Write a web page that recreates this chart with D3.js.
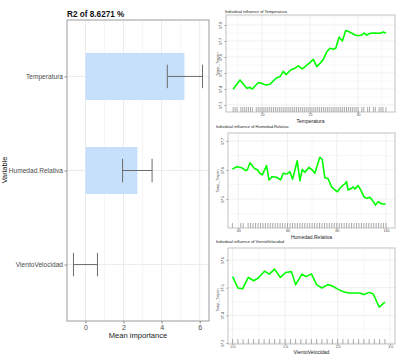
<!DOCTYPE html>
<html><head><meta charset="utf-8">
<script src="https://cdn.jsdelivr.net/npm/d3@7"></script>
<style>body{margin:0;background:#fff}svg{display:block;font-family:"Liberation Sans",Arial,sans-serif}</style>
</head><body>
<svg id="c" width="402" height="364"></svg>
<script>
// ---------- data ----------
const variables = ["Temperatura", "Humedad.Relativa", "VientoVelocidad"];
const meanImportance = [5.2, 2.73, 0];
const errLow = [4.3, 1.95, -0.63];
const errHigh = [6.15, 3.5, 0.63];
const impTicks = [0, 2, 4, 6];
const r2Title = "R2 of 8.6271 %";

const tempX = [17.0,17.71,18.41,18.75,18.99,19.62,19.97,20.38,20.83,21.53,21.88,22.22,22.5,23.02,23.44,23.78,24.2,24.48,24.9,25.35,25.7,26.04,26.39,26.74,27.08,27.43,27.68,28.02,28.37,28.72,29.06,29.34,29.69,30.03,30.38,30.63,30.9,31.25,31.77,32.3,32.64,32.9];
const tempY = [37.398,37.456,37.404,37.41,37.4,37.44,37.435,37.425,37.43,37.47,37.477,37.51,37.49,37.52,37.53,37.544,37.525,37.54,37.56,37.585,37.54,37.56,37.585,37.633,37.654,37.648,37.654,37.723,37.70,37.765,37.758,37.75,37.737,37.733,37.737,37.75,37.737,37.748,37.75,37.748,37.756,37.748];
const tempRug = [17.0,17.2,17.4,17.8,18.0,18.2,18.4,18.6,18.8,19.0,19.4,19.6,19.8,20.0,20.2,20.4,20.6,20.8,21.0,21.2,21.4,21.6,21.8,22.0,22.2,22.4,22.6,22.8,23.0,23.2,23.4,23.6,23.8,24.0,24.2,24.4,24.6,24.8,25.0,25.2,25.4,25.6,25.8,26.0,26.2,26.4,26.6,26.8,27.0,27.2,27.4,27.6,27.8,28.0,28.2,28.4,28.6,28.8,29.0,29.2,29.4,29.6,29.8,30.0,30.4,30.6,31.0,31.2,31.6,31.8,32.2,32.4,32.6,32.9];
const tempXTicks = [20, 25, 30];
const tempYTicks = [37.3, 37.4, 37.5, 37.6, 37.7, 37.8];

const humX = [37.57,39.35,41.38,43.0,43.65,44.75,46.5,47.87,48.52,49.74,51.5,52.45,53.8,55.58,57.2,58.26,59.62,60.97,62.05,63.94,65.03,65.97,67.06,68.68,70.03,71.1,73.14,74.08,75.17,76.5,77.9,79.23,80.3,81.26,82.6,83.29,83.97,84.6,86.0,86.65,87.34,88.68,89.77,90.99,92.08,93.43,94.36,95.74,96.8,97.77,98.8,99.85];
const humY = [37.603,37.611,37.608,37.598,37.60,37.625,37.606,37.60,37.591,37.583,37.615,37.566,37.577,37.575,37.566,37.589,37.586,37.594,37.568,37.632,37.563,37.602,37.592,37.609,37.60,37.589,37.644,37.637,37.573,37.57,37.542,37.531,37.525,37.537,37.548,37.552,37.56,37.531,37.537,37.542,37.534,37.546,37.531,37.508,37.502,37.506,37.497,37.479,37.491,37.485,37.483,37.483];
const humRug = [37.6,41,42,44,45,46,47,48,49,50,51,52,53,54,55,56,57,58,59,60,61,62,63,64,65,66,67,68,69,70,71,72,73,74,75,76,77,78,79,80,81,82,83,84,85,86,87,88,89,90,91,92,93,94,95,96,97,98,99,100];
const humXTicks = [40, 60, 80, 100];
const humYTicks = [37.5, 37.6, 37.7];

const windX = [0,0.10,0.19,0.30,0.40,0.49,0.61,0.70,0.80,0.91,1.01,1.12,1.20,1.32,1.40,1.50,1.60,1.70,1.81,1.89,2.02,2.11,2.21,2.30,2.41,2.50,2.60,2.68,2.79,2.90];
const windY = [37.54,37.499,37.496,37.537,37.525,37.535,37.56,37.549,37.567,37.537,37.555,37.558,37.511,37.549,37.54,37.55,37.511,37.499,37.511,37.507,37.493,37.485,37.481,37.481,37.481,37.475,37.483,37.477,37.43,37.448];
const windRug = [0,0.1,0.2,0.3,0.4,0.5,0.6,0.7,0.8,0.9,1.0,1.1,1.2,1.3,1.4,1.5,1.6,1.7,1.8,1.9,2.0,2.1,2.2,2.3,2.4,2.5,2.6,2.7,2.8,2.9];
const windXTicks = [0, 1, 2, 3];
const windYTicks = [37.3, 37.4, 37.5, 37.6];

const yAxisTitle = "Temp._Tmpen";

// ---------- drawing ----------
const svg = d3.select("#c");
const GRID = "#ebebeb", BORDER = "#9a9a9a", TXT = "#4d4d4d";
const FONT = "Liberation Sans, Arial, sans-serif";

// ===== Left importance panel =====
{
  const L = 67, R = 209, T = 20, B = 321;
  const x = d3.scaleLinear().domain([-0.97, 6.49]).range([L, R]);
  const y = d3.scalePoint().domain(variables).range([T, B]).padding(0.6);
  const g = svg.append("g");
  g.append("rect").attr("x", L).attr("y", T).attr("width", R - L).attr("height", B - T).attr("fill", "#fff");
  g.selectAll(".mn").data([1, 3, 5]).join("line")
    .attr("x1", d => x(d)).attr("x2", d => x(d)).attr("y1", T).attr("y2", B)
    .attr("stroke", "#f4f4f4").attr("stroke-width", 0.8);
  g.selectAll(".mj").data(impTicks).join("line")
    .attr("x1", d => x(d)).attr("x2", d => x(d)).attr("y1", T).attr("y2", B)
    .attr("stroke", GRID).attr("stroke-width", 1);
  g.selectAll(".hy").data(variables).join("line")
    .attr("x1", L).attr("x2", R).attr("y1", d => y(d)).attr("y2", d => y(d))
    .attr("stroke", GRID).attr("stroke-width", 1);
  const bh = y.step() * 0.5;
  g.selectAll(".bar").data(variables).join("rect")
    .attr("x", (d, i) => x(Math.min(0, meanImportance[i])))
    .attr("width", (d, i) => Math.abs(x(meanImportance[i]) - x(0)))
    .attr("y", d => y(d) - bh / 2).attr("height", bh)
    .attr("fill", "#c6e0fb");
  const eh = y.step() * 0.25;
  variables.forEach((v, i) => {
    const cy = y(v);
    g.append("line").attr("x1", x(errLow[i])).attr("x2", x(errHigh[i])).attr("y1", cy).attr("y2", cy).attr("stroke", "#6b6b6b").attr("stroke-width", 1);
    [errLow[i], errHigh[i]].forEach(e => g.append("line").attr("x1", x(e)).attr("x2", x(e)).attr("y1", cy - eh / 2).attr("y2", cy + eh / 2).attr("stroke", "#6b6b6b").attr("stroke-width", 1));
  });
  g.append("rect").attr("x", L).attr("y", T).attr("width", R - L).attr("height", B - T).attr("fill", "none").attr("stroke", BORDER).attr("stroke-width", 1);
  const xa = g.append("g").attr("transform", `translate(0,${B})`).call(d3.axisBottom(x).tickValues(impTicks).tickSize(2.5).tickPadding(2));
  xa.select(".domain").remove();
  xa.selectAll("line").attr("stroke", "#888");
  xa.selectAll("text").attr("font-size", 7).attr("fill", TXT).attr("font-family", FONT);
  const ya = g.append("g").attr("transform", `translate(${L},0)`).call(d3.axisLeft(y).tickSize(2.5).tickPadding(1.5));
  ya.select(".domain").remove();
  ya.selectAll("line").attr("stroke", "#888");
  ya.selectAll("text").attr("font-size", 6.6).attr("fill", TXT).attr("font-family", FONT);
  g.append("text").attr("x", (L + R) / 2).attr("y", 338).attr("text-anchor", "middle").attr("font-size", 7.6).attr("fill", "#222").text("Mean importance");
  g.append("text").attr("transform", "translate(6.5,170) rotate(-90)").attr("text-anchor", "middle").attr("font-size", 7.4).attr("fill", "#222").text("Variable");
  g.append("text").attr("x", L).attr("y", 17).attr("font-size", 8.2).attr("font-weight", "bold").attr("fill", "#111").text(r2Title);
}

// ===== Right influence panels =====
function influence(cfg) {
  const { L, R, T, B, xd, yd, xs, ys, xt, yt, rug, title, titleX, titleY, xlab, xlabY, ytitleY, xMinor, yMinor } = cfg;
  const x = d3.scaleLinear().domain(xd).range([L, R]);
  const y = d3.scaleLinear().domain(yd).range([B, T]);
  const g = svg.append("g");
  g.append("rect").attr("x", L).attr("y", T).attr("width", R - L).attr("height", B - T).attr("fill", "#fff");
  g.selectAll(".xmn").data(xMinor).join("line").attr("x1", d => x(d)).attr("x2", d => x(d)).attr("y1", T).attr("y2", B).attr("stroke", "#f3f3f3").attr("stroke-width", 0.6);
  g.selectAll(".ymn").data(yMinor).join("line").attr("y1", d => y(d)).attr("y2", d => y(d)).attr("x1", L).attr("x2", R).attr("stroke", "#f3f3f3").attr("stroke-width", 0.6);
  g.selectAll(".xmj").data(xt).join("line").attr("x1", d => x(d)).attr("x2", d => x(d)).attr("y1", T).attr("y2", B).attr("stroke", GRID).attr("stroke-width", 0.8);
  g.selectAll(".ymj").data(yt).join("line").attr("y1", d => y(d)).attr("y2", d => y(d)).attr("x1", L).attr("x2", R).attr("stroke", GRID).attr("stroke-width", 0.8);
  g.selectAll(".rug").data(rug).join("line").attr("x1", d => x(d)).attr("x2", d => x(d)).attr("y1", B - 5).attr("y2", B)
    .attr("stroke", "#555").attr("stroke-width", 0.5);
  const line = d3.line().x(d => x(d[0])).y(d => y(d[1]));
  g.append("path").datum(xs.map((v, i) => [v, ys[i]])).attr("d", line).attr("fill", "none").attr("stroke", "#00ff00").attr("stroke-width", 1.6).attr("stroke-linejoin", "round");
  g.append("rect").attr("x", L).attr("y", T).attr("width", R - L).attr("height", B - T).attr("fill", "none").attr("stroke", "#b3b3b3").attr("stroke-width", 0.8);
  const xa = g.append("g").attr("transform", `translate(0,${B})`).call(d3.axisBottom(x).tickValues(xt).tickSize(1.2).tickPadding(0.6));
  xa.select(".domain").remove();
  xa.selectAll("line").attr("stroke", "#999");
  xa.selectAll("text").attr("font-size", 3.6).attr("fill", TXT).attr("font-family", FONT);
  const ya = g.append("g").attr("transform", `translate(${L},0)`).call(d3.axisLeft(y).tickValues(yt).tickSize(1.5).tickFormat(d3.format(".1f")));
  ya.select(".domain").remove();
  ya.selectAll("line").attr("stroke", "#999");
  ya.selectAll("text").attr("font-size", 3.8).attr("fill", TXT).attr("font-family", FONT)
    .attr("text-anchor", "middle").attr("x", 0).attr("dy", 0).attr("transform", `translate(${-4.5},0) rotate(-90)`);
  g.append("text").attr("x", titleX).attr("y", titleY).attr("font-size", 4).attr("fill", "#222").text(title);
  g.append("text").attr("x", (L + R) / 2).attr("y", xlabY).attr("text-anchor", "middle").attr("font-size", 5).attr("fill", "#222").text(xlab);
  g.append("text").attr("transform", `translate(218.5,${ytitleY}) rotate(-90)`).attr("text-anchor", "middle").attr("font-size", 3.6).attr("fill", "#333").text(yAxisTitle);
}

influence({ L: 226, R: 395, T: 15, B: 112, xd: [16.25, 33.85], yd: [37.256, 37.8625],
  xs: tempX, ys: tempY, xt: tempXTicks, yt: tempYTicks, rug: tempRug,
  title: "Individual influence of Temperatura", titleX: 225, titleY: 12.5,
  xlab: "Temperatura", xlabY: 122.5, ytitleY: 64,
  xMinor: [17.5, 22.5, 27.5, 32.5], yMinor: [37.35, 37.45, 37.55, 37.65, 37.75, 37.85] });

influence({ L: 228, R: 395, T: 133, B: 228, xd: [35.82, 103.66], yd: [37.4, 37.7276],
  xs: humX, ys: humY, xt: humXTicks, yt: humYTicks, rug: humRug,
  title: "Individual influence of Humedad.Relativa", titleX: 216, titleY: 127.5,
  xlab: "Humedad.Relativa", xlabY: 239, ytitleY: 181,
  xMinor: [50, 70, 90], yMinor: [37.45, 37.55, 37.65] });

influence({ L: 228, R: 395, T: 248, B: 344, xd: [-0.0875, 3.0925], yd: [37.2964, 37.6434],
  xs: windX, ys: windY, xt: windXTicks, yt: windYTicks, rug: windRug,
  title: "Individual influence of VientoVelocidad", titleX: 216, titleY: 243,
  xlab: "VientoVelocidad", xlabY: 354, ytitleY: 300,
  xMinor: [0.5, 1.5, 2.5], yMinor: [37.35, 37.45, 37.55] });
</script>
</body></html>
